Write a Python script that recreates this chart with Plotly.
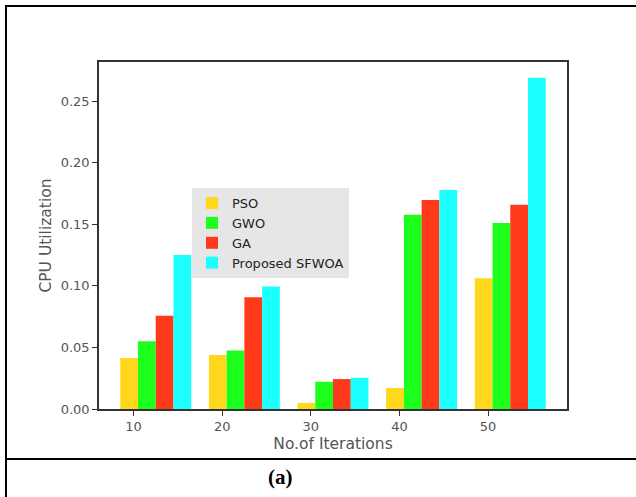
import plotly.graph_objects as go

iterations = [10, 20, 30, 40, 50]
pso = [0.0414, 0.0438, 0.0049, 0.0170, 0.1062]
gwo = [0.0551, 0.0475, 0.0221, 0.1576, 0.1509]
ga = [0.0757, 0.0908, 0.0243, 0.1697, 0.1659]
sfwoa = [0.1251, 0.0994, 0.0254, 0.1778, 0.2689]

series_names = ["PSO", "GWO", "GA", "Proposed SFWOA"]
series_values = [pso, gwo, ga, sfwoa]
colors = ["#FFD71C", "#1CFF1C", "#FF3A1A", "#1CFFFF"]
y_ticks = [0.00, 0.05, 0.10, 0.15, 0.20, 0.25]

W, H = 636, 497
L, R, T, B = 99, 69, 62, 88
pw, ph = W - L - R, H - T - B

def px_x(x):
    return (x - L) / pw

def px_y(y):
    return (H - B - y) / ph

fig = go.Figure()
bar_w = 2
for i, (name, vals, col) in enumerate(zip(series_names, series_values, colors)):
    fig.add_trace(go.Bar(
        x=iterations, y=vals, name=name,
        width=bar_w, offset=-1.5 + bar_w * i,
        marker=dict(color=col, line=dict(width=0)),
    ))

axis_font = dict(family="DejaVu Sans", size=13, color="#555555")
title_font = dict(family="DejaVu Sans", size=15.5, color="#555555")
fig.update_layout(
    width=W, height=H,
    margin=dict(l=L, r=R, t=T, b=B),
    paper_bgcolor="white", plot_bgcolor="white",
    barmode="overlay",
    showlegend=True,
    legend=dict(
        x=px_x(192), y=px_y(188), xanchor="left", yanchor="top",
        bgcolor="#e6e6e6", borderwidth=0,
        font=dict(family="DejaVu Sans", size=13, color="#222222"),
        itemwidth=30, tracegroupgap=0,
    ),
    xaxis=dict(
        range=[6.1, 58.9], tickvals=iterations, ticktext=[str(v) for v in iterations],
        showgrid=False, zeroline=False,
        showline=True, mirror=True, linecolor="#333333", linewidth=1.5,
        ticks="outside", ticklen=5, tickcolor="#333333", tickwidth=1,
        tickfont=axis_font,
        title=dict(text="No.of Iterations", font=title_font, standoff=5),
    ),
    yaxis=dict(
        range=[0, 0.2817], tickvals=y_ticks, ticktext=[f"{v:.2f}" for v in y_ticks],
        showgrid=False, zeroline=False,
        showline=True, mirror=True, linecolor="#333333", linewidth=1.5,
        ticks="outside", ticklen=5, tickcolor="#333333", tickwidth=1,
        tickfont=axis_font,
        title=dict(text="CPU Utilization", font=title_font, standoff=5),
    ),
)

# outer table-like frame
line_style = dict(color="black", width=2)
fig.add_shape(type="line", xref="paper", yref="paper",
              x0=px_x(6), x1=px_x(6), y0=px_y(6), y1=px_y(497), line=line_style)
fig.add_shape(type="line", xref="paper", yref="paper",
              x0=px_x(5), x1=px_x(636), y0=px_y(6), y1=px_y(6), line=line_style)
fig.add_shape(type="line", xref="paper", yref="paper",
              x0=px_x(5), x1=px_x(636), y0=px_y(459), y1=px_y(459), line=line_style)

fig.add_annotation(
    text="<b>(a)</b>", xref="paper", yref="paper",
    x=px_x(280), y=px_y(477), xanchor="center", yanchor="middle",
    showarrow=False, font=dict(family="Liberation Serif", size=21, color="black"),
)

fig.write_html(
    "out.html",
    config={"displayModeBar": False},
    post_script="document.body.style.margin='0px';document.body.style.overflow='hidden';",
)
